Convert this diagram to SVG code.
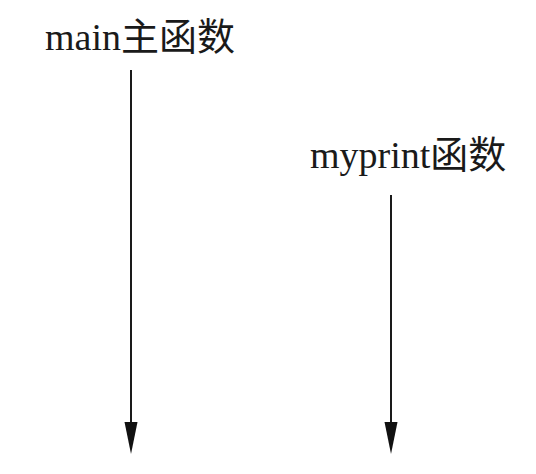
<svg xmlns="http://www.w3.org/2000/svg" width="536" height="474" viewBox="0 0 536 474">
<style>
.lbl{font-family:"Liberation Serif","Noto Sans CJK SC",serif;font-size:38px;fill:#1a1a1a}
.conn{stroke:#1a1a1a;stroke-width:2;fill:none}
</style>
<defs>
<marker id="ah" markerUnits="userSpaceOnUse" markerWidth="34" markerHeight="14" refX="8" refY="7" orient="auto" viewBox="0 0 34 14">
<path d="M0,0.5 L32,7 L0,13.5 Z" fill="#111"/>
</marker>
</defs>
<rect width="536" height="474" fill="#fff"/>
<g id="main-node"><text class="lbl" x="45" y="50">main主函数</text></g>
<g id="myprint-node"><text class="lbl" x="310" y="168">myprint函数</text></g>
<g id="connectors">
<line class="conn" x1="131" y1="70" x2="131" y2="430" marker-end="url(#ah)"/>
<line class="conn" x1="391" y1="195" x2="391" y2="430" marker-end="url(#ah)"/>
</g>
</svg>
